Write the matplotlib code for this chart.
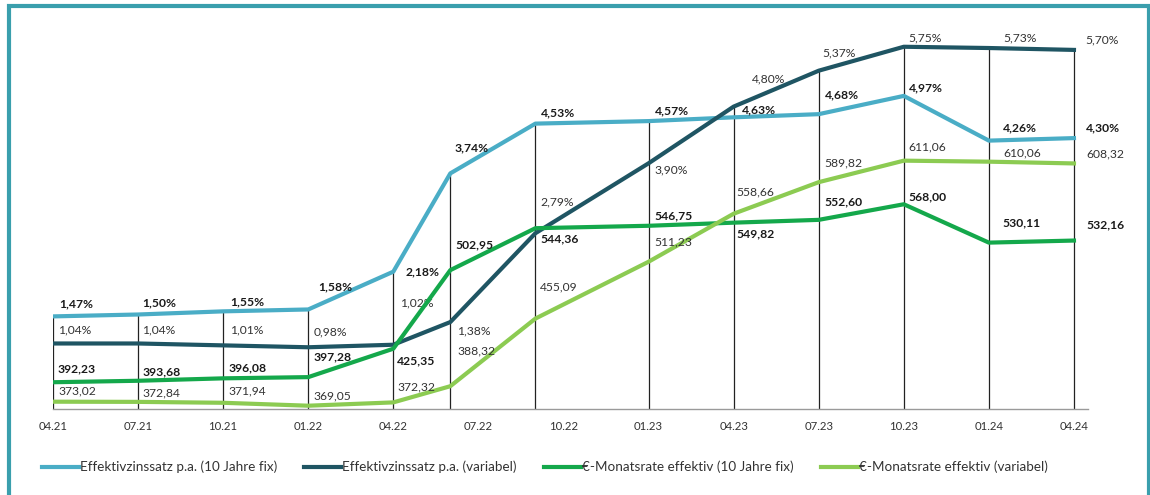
import matplotlib
matplotlib.use("Agg")
import matplotlib.pyplot as plt
import matplotlib.patches as patches
from matplotlib.lines import Line2D

plt.rcParams['font.family'] = ['Lato', 'DejaVu Sans']

# Quarter labels on the x axis
quarters = ['04.21', '07.21', '10.21', '01.22', '04.22', '07.22', '10.22',
            '01.23', '04.23', '07.23', '10.23', '01.24', '04.24']
# x values of the measurements (07.22 and 10.22 sit a bit left of their tick)
x_points = [0, 1, 2, 3, 4, 4.67, 5.67, 7, 8, 9, 10, 11, 12]

rate_fix = [1.47, 1.50, 1.55, 1.58, 2.18, 3.74, 4.53, 4.57, 4.63, 4.68, 4.97, 4.26, 4.30]
rate_var = [1.04, 1.04, 1.01, 0.98, 1.02, 1.38, 2.79, 3.90, 4.80, 5.37, 5.75, 5.73, 5.70]
rate_eur_fix = [392.23, 393.68, 396.08, 397.28, 425.35, 502.95, 544.36, 546.75,
                549.82, 552.60, 568.00, 530.11, 532.16]
rate_eur_var = [373.02, 372.84, 371.94, 369.05, 372.32, 388.32, 455.09, 511.23,
                558.66, 589.82, 611.06, 610.06, 608.32]

# label offsets in pixels (dx right, dy up) relative to each point
off_fix = [(6, 13), (4, 12), (7, 10), (10, 23), (12, 0), (4, 26), (5, 11),
           (6, 10), (8, 7), (6, 19), (5, 8), (14, 13), (12, 10)]
off_var = [(5, 14), (4, 14), (7, 15), (5, 15), (7, 42), (7, -9), (5, 31),
           (6, -7), (18, 28), (4, 18), (5, 9), (14, 10), (11, 10)]
off_eur_fix = [(5, 13), (4, 9), (5, 10), (5, 20), (4, -12), (5, 25), (5, -11),
               (6, 10), (3, -11), (6, 18), (5, 7), (14, 20), (12, 16)]
off_eur_var = [(5, 11), (4, 9), (5, 12), (5, 10), (4, 15), (7, 35), (5, 32),
               (6, 20), (3, 22), (6, 19), (5, 14), (14, 9), (12, 10)]

c_fix = '#4aadc6'
c_var = '#1f5563'
c_eur_fix = '#14a84b'
c_eur_var = '#8ccb52'

W, H = 1150, 495
fig = plt.figure(figsize=(W / 100, H / 100), dpi=100)
ax = fig.add_axes([53 / W, 86 / H, (1088 - 53) / W, 379 / H])
ax2 = ax.twinx()

ax.set_xlim(0, 12.165)
ax.set_ylim(0, 6.016)
ax2.set_ylim(365.8, 740.1)

# vertical guide lines from the baseline up to the highest point
tops = [max(a, b) for a, b in zip(rate_fix, rate_var)]
ax.vlines(x_points, 0, tops, color='#222222', lw=0.9, zorder=1)

ax.plot(x_points, rate_fix, color=c_fix, lw=3, solid_joinstyle='round', zorder=3)
ax.plot(x_points, rate_var, color=c_var, lw=3, solid_joinstyle='round', zorder=3)
ax2.plot(x_points, rate_eur_fix, color=c_eur_fix, lw=3, solid_joinstyle='round', zorder=3)
ax2.plot(x_points, rate_eur_var, color=c_eur_var, lw=3, solid_joinstyle='round', zorder=3)


def fmt(v, pct):
    s = f"{v:.2f}".replace('.', ',')
    return s + '%' if pct else s


def add_labels(axis, values, offsets, pct, bold):
    for x, v, (dx, dy) in zip(x_points, values, offsets):
        axis.annotate(fmt(v, pct), (x, v), xytext=(dx, dy), textcoords='offset pixels',
                      ha='left', va='center', fontsize=8.7,
                      fontweight='bold' if bold else 'normal',
                      color='#1a1a1a' if bold else '#333333', zorder=5)


add_labels(ax, rate_fix, off_fix, True, True)
add_labels(ax, rate_var, off_var, True, False)
add_labels(ax2, rate_eur_fix, off_eur_fix, False, True)
add_labels(ax2, rate_eur_var, off_eur_var, False, False)

for a in (ax, ax2):
    for side in ['top', 'right', 'left']:
        a.spines[side].set_visible(False)
    a.set_yticks([])
ax2.spines['bottom'].set_visible(False)
ax.spines['bottom'].set_color('#9a9a9a')
ax.spines['bottom'].set_linewidth(1)

ax.set_xticks(range(len(quarters)))
ax.set_xticklabels(quarters, fontsize=8.2, color='#333333')
ax.tick_params(axis='x', length=0, pad=9)

handles = [Line2D([], [], color=c, lw=3) for c in [c_fix, c_var, c_eur_fix, c_eur_var]]
names = ['Effektivzinssatz p.a. (10 Jahre fix)', 'Effektivzinssatz p.a. (variabel)',
         '€-Monatsrate effektiv (10 Jahre fix)', '€-Monatsrate effektiv (variabel)']
fig.legend(handles, names, ncol=4, loc='center left', bbox_to_anchor=(42 / W, 1 - 467 / H),
           frameon=False, fontsize=9.7, handlelength=2.75, handletextpad=0.08,
           columnspacing=2.0, borderpad=0, borderaxespad=0, labelcolor='#333333')

# teal frame around the figure
fig.add_artist(patches.Rectangle((9 / W, -0.1), (1149 - 9) / W, 1.1 - 6 / H,
                                 transform=fig.transFigure, fill=False,
                                 edgecolor='#3a9fad', lw=3))

fig.savefig('out.png', dpi=100)
